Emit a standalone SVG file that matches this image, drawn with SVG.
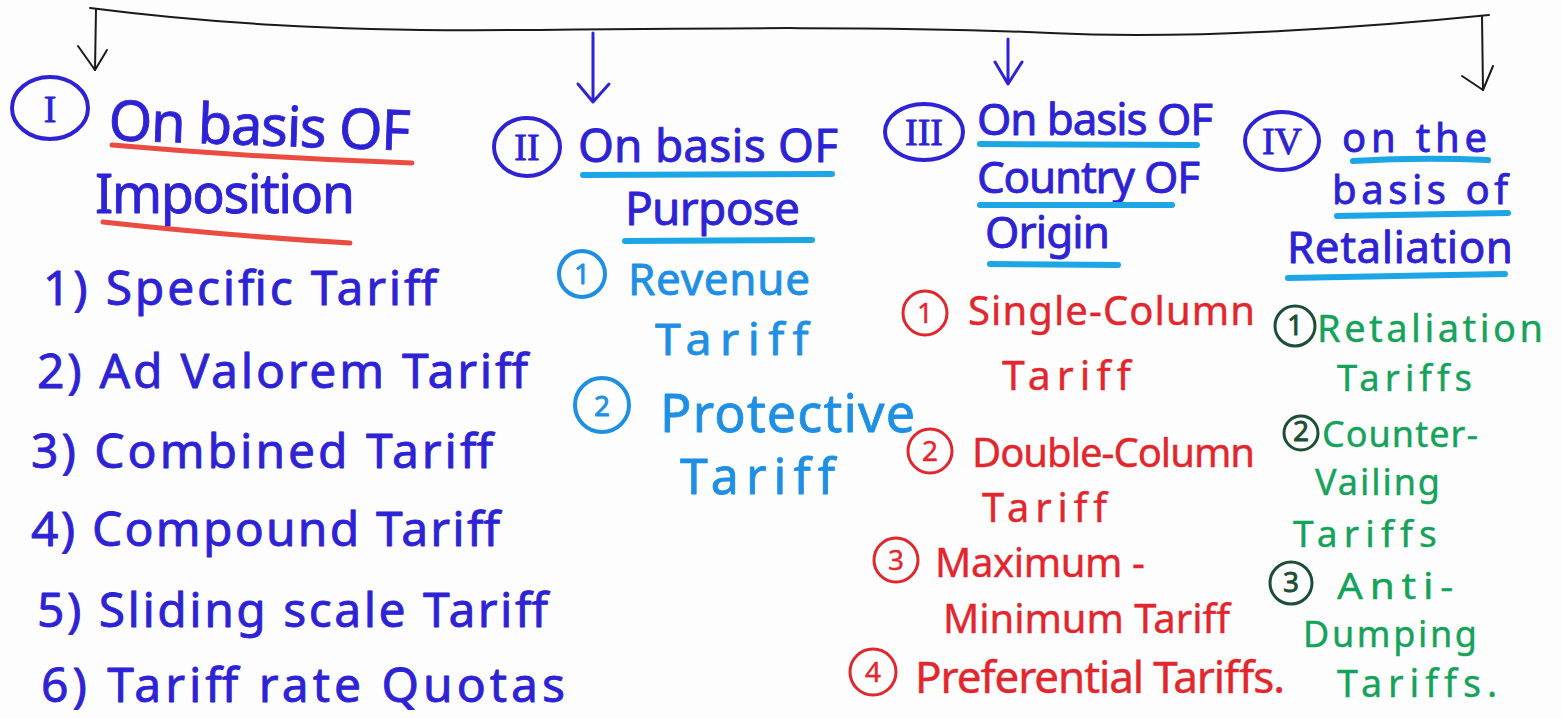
<svg xmlns="http://www.w3.org/2000/svg" width="1561" height="718" viewBox="0 0 1561 718">
  <style>
    text { font-family: "Noto Sans", "Open Sans", sans-serif; stroke-width: 0.8; stroke-linejoin: round; }
    .blue { fill: #2d22d4; stroke: #2d22d4; }
    .cyan { fill: #1f8fe4; stroke: #1f8fe4; }
    .red { fill: #e2262d; stroke: #e2262d; stroke-width: 0.4; }
    .green { fill: #15a25a; stroke: #15a25a; stroke-width: 0.4; }
    .dark { fill: #1b4e34; stroke: #1b4e34; }
    .roman { font-family: "Liberation Serif", serif; font-size: 38px; text-anchor: middle; }
    .num { font-size: 28px; text-anchor: middle; }
    .ring-blue { fill: none; stroke: #2d22d4; stroke-width: 4; }
    .ring-cyan { fill: none; stroke: #1f8fe4; stroke-width: 4; }
    .ring-red { fill: none; stroke: #e2262d; stroke-width: 3; }
    .ring-green { fill: none; stroke: #1b4e34; stroke-width: 3; }
    .ul-red { fill: none; stroke: #e8392e; stroke-width: 5; stroke-linecap: round; opacity: 0.9; }
    .ul-cyan { fill: none; stroke: #1ca6e6; stroke-width: 6; stroke-linecap: round; }
    .wire { fill: none; stroke: #1a1a1a; stroke-width: 2; stroke-linecap: round; stroke-linejoin: round; }
    .wire-blue { fill: none; stroke: #2d22d4; stroke-width: 3; stroke-linecap: round; stroke-linejoin: round; }
  </style>
  <rect width="1561" height="718" fill="#fdfdfd"/>

  <!-- connectors: top bar and drops -->
  <g id="connectors">
    <path class="wire" d="M90,8 C200,22 330,32 520,30 S900,26 1050,33 S1380,26 1489,15"/>
    <path class="wire" d="M96,9 L95,70"/>
    <path class="wire" d="M78,46 L95,70 L107,50"/>
    <path class="wire-blue" d="M593,33 L593,102 M578,84 L593,102 L609,84"/>
    <path class="wire-blue" d="M1008,39 L1008,84 M995,62 L1008,84 L1022,62"/>
    <path class="wire" d="M1482,16 L1483,90"/>
    <path class="wire" d="M1462,76 L1483,90 L1493,66"/>
  </g>

  <!-- I: on basis of imposition -->
  <g id="basis-imposition">
    <ellipse class="ring-blue" cx="50" cy="108" rx="38" ry="31"/>
    <text class="blue roman" x="50" y="122">I</text>
    <text class="blue" x="108" y="140" font-size="56" textLength="302" transform="rotate(2 108 140)">On basis OF</text>
    <path class="ul-red" d="M112,145 Q260,158 412,163"/>
    <text class="blue" x="95" y="213" font-size="54" textLength="260">Imposition</text>
    <path class="ul-red" d="M103,222 Q230,236 350,243"/>
    <text class="blue" x="43" y="305" font-size="48" textLength="394">1) Specific Tariff</text>
    <text class="blue" x="37" y="388" font-size="48" textLength="491">2) Ad Valorem Tariff</text>
    <text class="blue" x="31" y="468" font-size="48" textLength="462">3) Combined Tariff</text>
    <text class="blue" x="31" y="546" font-size="48" textLength="469">4) Compound Tariff</text>
    <text class="blue" x="37" y="627" font-size="48" textLength="511">5) Sliding scale Tariff</text>
    <text class="blue" x="41" y="702" font-size="48" textLength="524">6) Tariff rate Quotas</text>
  </g>

  <!-- II: on basis of purpose -->
  <g id="basis-purpose">
    <ellipse class="ring-blue" cx="527" cy="147" rx="33" ry="29"/>
    <text class="blue roman" x="527" y="160" font-size="34">II</text>
    <text class="blue" x="578" y="162" font-size="46" textLength="260">On basis OF</text>
    <path class="ul-cyan" d="M583,175 L832,174"/>
    <text class="blue" x="625" y="225" font-size="46" textLength="175">Purpose</text>
    <path class="ul-cyan" d="M625,241 L812,240"/>
  </g>
  <g id="revenue-tariff">
    <circle class="ring-cyan" cx="582" cy="274" r="23"/>
    <text class="cyan num" x="582" y="284">1</text>
    <text class="cyan" x="628" y="295" font-size="44" textLength="182">Revenue</text>
    <text class="cyan" x="655" y="355" font-size="44" letter-spacing="8" textLength="162" lengthAdjust="spacingAndGlyphs">Tariff</text>
  </g>
  <g id="protective-tariff">
    <circle class="ring-cyan" cx="602" cy="405" r="27"/>
    <text class="cyan num" x="602" y="416" font-size="30">2</text>
    <text class="cyan" x="660" y="432" font-size="52" textLength="255">Protective</text>
    <text class="cyan" x="680" y="494" font-size="50" letter-spacing="7" textLength="162" lengthAdjust="spacingAndGlyphs">Tariff</text>
  </g>

  <!-- III: on basis of country of origin -->
  <g id="basis-origin">
    <ellipse class="ring-blue" cx="924" cy="132" rx="39" ry="28"/>
    <text class="blue roman" x="924" y="145" font-size="34">III</text>
    <text class="blue" x="977" y="135" font-size="44" textLength="236">On basis OF</text>
    <path class="ul-cyan" d="M980,144 L1197,145"/>
    <text class="blue" x="977" y="193" font-size="44" textLength="223">Country OF</text>
    <path class="ul-cyan" d="M980,205 L1172,205"/>
    <text class="blue" x="985" y="248" font-size="44" textLength="125">Origin</text>
    <path class="ul-cyan" d="M990,264 L1118,265"/>
  </g>
  <g id="single-column">
    <circle class="ring-red" cx="925" cy="313" r="22"/>
    <text class="red num" x="925" y="323">1</text>
    <text class="red" x="968" y="325" font-size="40" textLength="287">Single-Column</text>
    <text class="red" x="1002" y="390" font-size="40" letter-spacing="6" textLength="135" lengthAdjust="spacingAndGlyphs">Tariff</text>
  </g>
  <g id="double-column">
    <circle class="ring-red" cx="930" cy="451" r="22"/>
    <text class="red num" x="930" y="461">2</text>
    <text class="red" x="972" y="467" font-size="40" textLength="283">Double-Column</text>
    <text class="red" x="982" y="522" font-size="40" letter-spacing="6" textLength="131" lengthAdjust="spacingAndGlyphs">Tariff</text>
  </g>
  <g id="maximum-minimum">
    <circle class="ring-red" cx="896" cy="560" r="22"/>
    <text class="red num" x="896" y="570">3</text>
    <text class="red" x="935" y="577" font-size="40" textLength="210">Maximum -</text>
    <text class="red" x="943" y="633" font-size="40" textLength="287">Minimum Tariff</text>
  </g>
  <g id="preferential">
    <circle class="ring-red" cx="873" cy="672" r="23"/>
    <text class="red num" x="873" y="682">4</text>
    <text class="red" x="915" y="693" font-size="44" textLength="370">Preferential Tariffs.</text>
  </g>

  <!-- IV: on the basis of retaliation -->
  <g id="basis-retaliation">
    <ellipse class="ring-blue" cx="1282" cy="141" rx="37" ry="29"/>
    <text class="blue roman" x="1282" y="154" font-size="34">IV</text>
    <text class="blue" x="1342" y="152" font-size="40" textLength="145">on the</text>
    <path class="ul-cyan" d="M1353,161 Q1420,157 1488,160"/>
    <text class="blue" x="1332" y="204" font-size="40" textLength="176">basis of</text>
    <path class="ul-cyan" d="M1337,216 L1508,213"/>
    <text class="blue" x="1287" y="263" font-size="44" textLength="226">Retaliation</text>
    <path class="ul-cyan" d="M1288,278 L1505,274"/>
  </g>
  <g id="retaliation-tariffs">
    <circle class="ring-green" cx="1295" cy="326" r="20"/>
    <text class="dark num" x="1295" y="335" font-size="24">1</text>
    <text class="green" x="1317" y="342" font-size="38" textLength="226">Retaliation</text>
    <text class="green" x="1337" y="391" font-size="36" letter-spacing="5" textLength="140" lengthAdjust="spacingAndGlyphs">Tariffs</text>
  </g>
  <g id="countervailing">
    <circle class="ring-green" cx="1301" cy="433" r="17"/>
    <text class="dark num" x="1301" y="441" font-size="22">2</text>
    <text class="green" x="1322" y="447" font-size="36" textLength="156">Counter-</text>
    <text class="green" x="1315" y="495" font-size="36" textLength="125">Vailing</text>
    <text class="green" x="1293" y="547" font-size="36" letter-spacing="6" textLength="150" lengthAdjust="spacingAndGlyphs">Tariffs</text>
  </g>
  <g id="anti-dumping">
    <circle class="ring-green" cx="1291" cy="583" r="21"/>
    <text class="dark num" x="1291" y="592" font-size="24">3</text>
    <text class="green" x="1337" y="599" font-size="36" letter-spacing="6" textLength="123" lengthAdjust="spacingAndGlyphs">Anti-</text>
    <text class="green" x="1303" y="647" font-size="36" textLength="174">Dumping</text>
    <text class="green" x="1337" y="697" font-size="38" letter-spacing="6" textLength="166" lengthAdjust="spacingAndGlyphs">Tariffs.</text>
  </g>
</svg>
